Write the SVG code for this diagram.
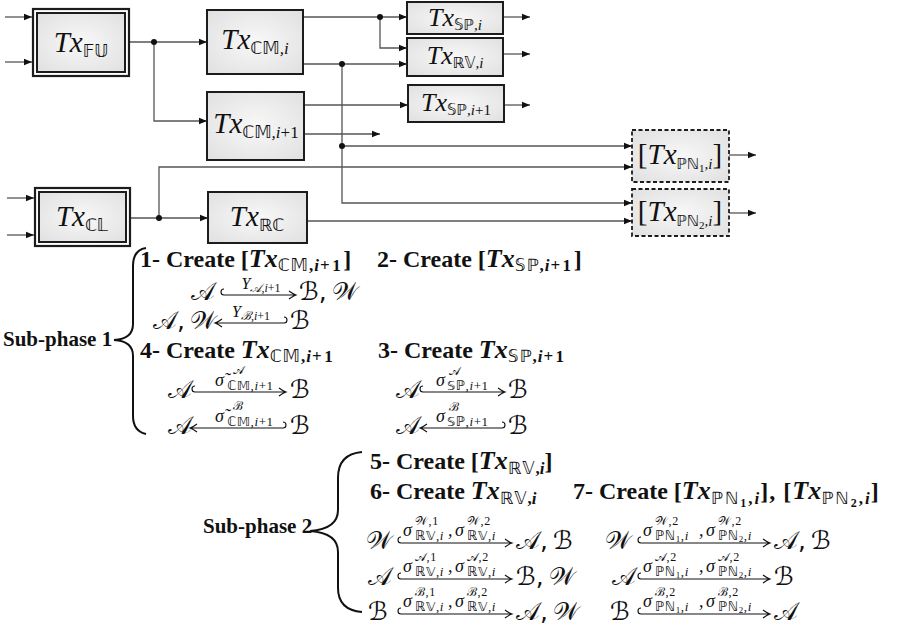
<svg xmlns="http://www.w3.org/2000/svg" width="906" height="630" viewBox="0 0 906 630">
<defs>
<radialGradient id="g" cx="50%" cy="50%" r="70%">
<stop offset="0" stop-color="#f8f8f8"/>
<stop offset="1" stop-color="#e0e0e0"/>
</radialGradient>
<marker id="ah" viewBox="0 0 8 8" refX="8" refY="4" markerWidth="8" markerHeight="8" markerUnits="userSpaceOnUse" orient="auto">
<path d="M0,0.8 L8,4 L0,7.2 Z" fill="#111"/>
</marker>
<style>
.box{fill:url(#g);stroke:#1c1c1c;stroke-width:2}
.ob{fill:#fff;stroke:#1c1c1c;stroke-width:2.2}
.dbox{fill:url(#g);stroke:#1c1c1c;stroke-width:1.8;stroke-dasharray:4 2.5}
.c{fill:none;stroke:#555;stroke-width:1.3}
.dot{fill:#111}
text{fill:#111;font-family:"Liberation Serif","DejaVu Serif",serif}
.bl{font-size:29px;font-style:italic}
.bs{font-size:26px;font-style:italic}
.ds{font-family:"DejaVu Sans","DejaVu Serif",sans-serif;font-style:normal;font-weight:normal}
.up{font-style:normal}
.it{font-style:italic}
.hd{font-size:24px;font-weight:bold}
.sp{font-size:21px;font-weight:bold}
.mt{font-family:"DejaVu Sans","DejaVu Serif","Noto Sans",sans-serif;font-size:25px}
.sg{font-size:18px;font-style:italic}
.sm{font-size:13px;letter-spacing:0.6px}
.su{font-size:12px;letter-spacing:0.6px}
.lb{font-size:16px;font-style:italic}
.arr{fill:none;stroke:#111;stroke-width:1.1}
.br{fill:none;stroke:#111;stroke-width:2}
</style>
</defs>

<g id="connectors">
<path class="c" d="M5,17 H32" marker-end="url(#ah)"/>
<path class="c" d="M5,62 H32" marker-end="url(#ah)"/>
<path class="c" d="M130,42 H207" marker-end="url(#ah)"/>
<path class="c" d="M154,42 V121 H207" marker-end="url(#ah)"/>
<path class="c" d="M303,17 H407" marker-end="url(#ah)"/>
<path class="c" d="M380,17 V48 H407" marker-end="url(#ah)"/>
<path class="c" d="M303,64 H407" marker-end="url(#ah)"/>
<path class="c" d="M342,64 V203 H632" marker-end="url(#ah)"/>
<path class="c" d="M342,146 H632" marker-end="url(#ah)"/>
<path class="c" d="M304,105 H408" marker-end="url(#ah)"/>
<path class="c" d="M304,134 H380" marker-end="url(#ah)"/>
<path class="c" d="M503,17 H530" marker-end="url(#ah)"/>
<path class="c" d="M503,54 H530" marker-end="url(#ah)"/>
<path class="c" d="M504,105 H530" marker-end="url(#ah)"/>
<path class="c" d="M7,198 H34" marker-end="url(#ah)"/>
<path class="c" d="M7,235 H34" marker-end="url(#ah)"/>
<path class="c" d="M131,218 H208" marker-end="url(#ah)"/>
<path class="c" d="M159,218 V167 H632" marker-end="url(#ah)"/>
<path class="c" d="M307,221 H632" marker-end="url(#ah)"/>
<path class="c" d="M729,155 H756" marker-end="url(#ah)"/>
<path class="c" d="M729,213 H756" marker-end="url(#ah)"/>
<circle class="dot" cx="154" cy="42" r="3"/>
<circle class="dot" cx="380" cy="17" r="3"/>
<circle class="dot" cx="342" cy="64" r="3"/>
<circle class="dot" cx="342" cy="146" r="3"/>
<circle class="dot" cx="159" cy="218" r="3"/>
</g>

<g id="txFU">
<rect class="ob" x="33" y="9" width="96" height="67"/>
<rect class="box" x="37" y="13" width="88" height="59" stroke-width="1.5"/>
<text class="bl" x="81" y="52" text-anchor="middle">Tx<tspan class="ds" font-size="17" dy="5">𝔽𝕌</tspan></text>
</g>
<g id="txCMi">
<rect class="box" x="207" y="10" width="96" height="64"/>
<text class="bl" x="255" y="49" text-anchor="middle">Tx<tspan class="ds" font-size="17" dy="5">ℂ𝕄</tspan><tspan font-size="17">,i</tspan></text>
</g>
<g id="txCMi1">
<rect class="box" x="207" y="92" width="97" height="68"/>
<text class="bl" x="256" y="133" text-anchor="middle">Tx<tspan class="ds" font-size="17" dy="5">ℂ𝕄</tspan><tspan font-size="17">,i</tspan><tspan class="up" font-size="17">+1</tspan></text>
</g>
<g id="txSPi">
<rect class="box" x="407" y="2" width="96" height="32"/>
<text class="bs" x="455" y="26" text-anchor="middle">Tx<tspan class="ds" font-size="15" dy="4">𝕊ℙ</tspan><tspan font-size="15">,i</tspan></text>
</g>
<g id="txRVi">
<rect class="box" x="407" y="38" width="96" height="38"/>
<text class="bs" x="455" y="64" text-anchor="middle">Tx<tspan class="ds" font-size="15" dy="4">ℝ𝕍</tspan><tspan font-size="15">,i</tspan></text>
</g>
<g id="txSPi1">
<rect class="box" x="408" y="85" width="96" height="37"/>
<text class="bs" x="456" y="111" text-anchor="middle">Tx<tspan class="ds" font-size="15" dy="4">𝕊ℙ</tspan><tspan font-size="15">,i</tspan><tspan class="up" font-size="15">+1</tspan></text>
</g>
<g id="txCL">
<rect class="ob" x="35" y="188" width="95" height="58"/>
<rect class="box" x="39" y="192" width="87" height="50" stroke-width="1.5"/>
<text class="bl" x="82" y="226" text-anchor="middle">Tx<tspan class="ds" font-size="17" dy="5">ℂ𝕃</tspan></text>
</g>
<g id="txRC">
<rect class="box" x="208" y="192" width="99" height="51"/>
<text class="bl" x="257" y="226" text-anchor="middle">Tx<tspan class="ds" font-size="17" dy="5">ℝℂ</tspan></text>
</g>
<g id="txPN1">
<rect class="dbox" x="632" y="130" width="97" height="52"/>
<text class="bl" x="680" y="164" text-anchor="middle" font-size="27"><tspan class="up">[</tspan>Tx<tspan class="ds" font-size="15" dy="5">ℙℕ</tspan><tspan class="up" font-size="11" dy="3">1</tspan><tspan font-size="15" dy="-3">,i</tspan><tspan class="up" dy="-5">]</tspan></text>
</g>
<g id="txPN2">
<rect class="dbox" x="632" y="189" width="97" height="47"/>
<text class="bl" x="680" y="221" text-anchor="middle" font-size="27"><tspan class="up">[</tspan>Tx<tspan class="ds" font-size="15" dy="5">ℙℕ</tspan><tspan class="up" font-size="11" dy="3">2</tspan><tspan font-size="15" dy="-3">,i</tspan><tspan class="up" dy="-5">]</tspan></text>
</g>

<g id="subphase1">
<text class="sp" x="3" y="346">Sub-phase 1</text>
<path class="br" d="M146,248 Q133,250 133,266 L133,324 Q133,339 114,340 Q133,341 133,356 L133,416 Q133,431 146,434"/>
<text class="hd" x="140" y="267">1- Create [<tspan class="it" font-size="26">Tx</tspan><tspan class="ds" font-size="17" dy="4" letter-spacing="1">ℂ𝕄</tspan><tspan font-size="17" letter-spacing="1">,</tspan><tspan class="it" font-size="17" letter-spacing="1">i</tspan><tspan font-size="17" letter-spacing="2.5">+1</tspan><tspan dy="-4">]</tspan></text>
<text class="hd" x="377" y="267">2- Create [<tspan class="it" font-size="26">Tx</tspan><tspan class="ds" font-size="17" dy="4" letter-spacing="1">𝕊ℙ</tspan><tspan font-size="17" letter-spacing="1">,</tspan><tspan class="it" font-size="17" letter-spacing="1">i</tspan><tspan font-size="17" letter-spacing="2.5">+1</tspan><tspan dy="-4">]</tspan></text>

<text class="mt" x="191" y="300">𝒜</text>
<path class="arr" d="M224,289 A3,3 0 0 0 224,295 H296 M289,291 Q293,294 296,295 Q293,296 289,299"/>
<text class="lb" x="261" y="289" text-anchor="middle">Y<tspan font-size="12" dy="3">𝒜,i</tspan><tspan class="up" font-size="12">+1</tspan></text>
<text class="mt" x="299" y="300">ℬ,&#8201;𝒲</text>

<text class="mt" x="153" y="329">𝒜,&#8201;𝒲</text>
<path class="arr" d="M284,317 A3,3 0 0 1 284,323 H215 M222,319 Q218,322 215,323 Q218,324 222,327"/>
<text class="lb" x="251" y="317" text-anchor="middle">Y<tspan font-size="12" dy="3">ℬ,i</tspan><tspan class="up" font-size="12">+1</tspan></text>
<text class="mt" x="290" y="329">ℬ</text>

<text class="hd" x="140" y="358">4- Create <tspan class="it" font-size="26">Tx</tspan><tspan class="ds" font-size="17" dy="4" letter-spacing="1">ℂ𝕄</tspan><tspan font-size="17" letter-spacing="1">,</tspan><tspan class="it" font-size="17" letter-spacing="1">i</tspan><tspan font-size="17" letter-spacing="2.5">+1</tspan></text>
<text class="hd" x="378" y="358">3- Create <tspan class="it" font-size="26">Tx</tspan><tspan class="ds" font-size="17" dy="4" letter-spacing="1">𝕊ℙ</tspan><tspan font-size="17" letter-spacing="1">,</tspan><tspan class="it" font-size="17" letter-spacing="1">i</tspan><tspan font-size="17" letter-spacing="2.5">+1</tspan></text>

<text class="mt" x="168" y="398">𝒜</text>
<path class="arr" d="M195,386 A3,3 0 0 0 195,392 H286 M279,388 Q283,391 286,392 Q283,393 279,396"/>
<text class="sg" x="215" y="386">σ̃</text>
<text class="su" x="233" y="374">𝒜</text>
<text class="sm" x="227" y="390"><tspan class="ds">ℂ𝕄</tspan>,<tspan class="it">i</tspan>+1</text>
<text class="mt" x="290" y="398">ℬ</text>

<text class="mt" x="168" y="434">𝒜</text>
<path class="arr" d="M283,422 A3,3 0 0 1 283,428 H190 M197,424 Q193,427 190,428 Q193,429 197,432"/>
<text class="sg" x="215" y="422">σ̃</text>
<text class="su" x="233" y="410">ℬ</text>
<text class="sm" x="227" y="426"><tspan class="ds">ℂ𝕄</tspan>,<tspan class="it">i</tspan>+1</text>
<text class="mt" x="290" y="434">ℬ</text>

<text class="mt" x="396" y="398">𝒜</text>
<path class="arr" d="M423,386 A3,3 0 0 0 423,392 H505 M498,388 Q502,391 505,392 Q502,393 498,396"/>
<text class="sg" x="436" y="386">σ</text>
<text class="su" x="449" y="375">𝒜</text>
<text class="sm" x="447" y="390"><tspan class="ds">𝕊ℙ</tspan>,<tspan class="it">i</tspan>+1</text>
<text class="mt" x="508" y="398">ℬ</text>

<text class="mt" x="396" y="434">𝒜</text>
<path class="arr" d="M502,422 A3,3 0 0 1 502,428 H420 M427,424 Q423,427 420,428 Q423,429 427,432"/>
<text class="sg" x="436" y="422">σ</text>
<text class="su" x="449" y="411">ℬ</text>
<text class="sm" x="447" y="426"><tspan class="ds">𝕊ℙ</tspan>,<tspan class="it">i</tspan>+1</text>
<text class="mt" x="508" y="434">ℬ</text>
</g>

<g id="subphase2">
<text class="sp" x="203" y="533">Sub-phase 2</text>
<path class="br" d="M362,452 Q338,454 338,478 L338,510 Q338,529 310,531 Q338,533 338,552 L338,588 Q338,610 362,612"/>
<text class="hd" x="370" y="469">5- Create [<tspan class="it" font-size="26">Tx</tspan><tspan class="ds" font-size="17" dy="5" letter-spacing="1">ℝ𝕍</tspan><tspan font-size="17">,</tspan><tspan class="it" font-size="17">i</tspan><tspan dy="-5">]</tspan></text>
<text class="hd" x="370" y="499">6- Create <tspan class="it" font-size="26">Tx</tspan><tspan class="ds" font-size="17" dy="5" letter-spacing="1">ℝ𝕍</tspan><tspan font-size="17">,</tspan><tspan class="it" font-size="17">i</tspan></text>
<text class="hd" x="573" y="499">7- Create [<tspan class="it" font-size="26">Tx</tspan><tspan class="ds" font-size="17" dy="5" letter-spacing="2">ℙℕ</tspan><tspan font-size="12" dy="3" letter-spacing="2">1</tspan><tspan font-size="17" dy="-3" letter-spacing="2">,</tspan><tspan class="it" font-size="17" letter-spacing="1">i</tspan><tspan dy="-5" letter-spacing="1">], [</tspan><tspan class="it" font-size="26">Tx</tspan><tspan class="ds" font-size="17" dy="5" letter-spacing="2">ℙℕ</tspan><tspan font-size="12" dy="3" letter-spacing="2">2</tspan><tspan font-size="17" dy="-3" letter-spacing="2">,</tspan><tspan class="it" font-size="17" letter-spacing="1">i</tspan><tspan dy="-5">]</tspan></text>

<!-- row a left -->
<text class="mt" x="366" y="549">𝒲</text>
<path class="arr" d="M401,537 A3,3 0 0 0 401,543 H512 M505,539 Q509,542 512,543 Q509,544 505,547"/>
<text class="sg" x="403" y="536">σ</text>
<text class="su" x="415" y="525">𝒲,1</text>
<text class="sm" x="415" y="540"><tspan class="ds">ℝ𝕍</tspan>,<tspan class="it">i</tspan></text>
<text class="sg" x="448" y="536">,</text>
<text class="sg" x="455" y="536">σ</text>
<text class="su" x="467" y="525">𝒲,2</text>
<text class="sm" x="467" y="540"><tspan class="ds">ℝ𝕍</tspan>,<tspan class="it">i</tspan></text>
<text class="mt" x="516" y="549">𝒜,&#8201;ℬ</text>

<!-- row b left -->
<text class="mt" x="368" y="585">𝒜</text>
<path class="arr" d="M401,573 A3,3 0 0 0 401,579 H512 M505,575 Q509,578 512,579 Q509,580 505,583"/>
<text class="sg" x="403" y="572">σ</text>
<text class="su" x="415" y="561">𝒜,1</text>
<text class="sm" x="415" y="576"><tspan class="ds">ℝ𝕍</tspan>,<tspan class="it">i</tspan></text>
<text class="sg" x="448" y="572">,</text>
<text class="sg" x="455" y="572">σ</text>
<text class="su" x="467" y="561">𝒜,2</text>
<text class="sm" x="467" y="576"><tspan class="ds">ℝ𝕍</tspan>,<tspan class="it">i</tspan></text>
<text class="mt" x="516" y="585">ℬ,&#8201;𝒲</text>

<!-- row c left -->
<text class="mt" x="368" y="620">ℬ</text>
<path class="arr" d="M401,608 A3,3 0 0 0 401,614 H512 M505,610 Q509,613 512,614 Q509,615 505,618"/>
<text class="sg" x="403" y="607">σ</text>
<text class="su" x="415" y="596">ℬ,1</text>
<text class="sm" x="415" y="611"><tspan class="ds">ℝ𝕍</tspan>,<tspan class="it">i</tspan></text>
<text class="sg" x="448" y="607">,</text>
<text class="sg" x="455" y="607">σ</text>
<text class="su" x="467" y="596">ℬ,2</text>
<text class="sm" x="467" y="611"><tspan class="ds">ℝ𝕍</tspan>,<tspan class="it">i</tspan></text>
<text class="mt" x="516" y="620">𝒜,&#8201;𝒲</text>

<!-- row a right -->
<text class="mt" x="605" y="549">𝒲</text>
<path class="arr" d="M641,537 A3,3 0 0 0 641,543 H770 M763,539 Q767,542 770,543 Q767,544 763,547"/>
<text class="sg" x="643" y="536">σ</text>
<text class="su" x="655" y="525">𝒲,2</text>
<text class="sm" x="655" y="540"><tspan class="ds">ℙℕ</tspan><tspan font-size="9" dy="2">1</tspan><tspan dy="-2">,</tspan><tspan class="it">i</tspan></text>
<text class="sg" x="699" y="536">,</text>
<text class="sg" x="706" y="536">σ</text>
<text class="su" x="718" y="525">𝒲,2</text>
<text class="sm" x="718" y="540"><tspan class="ds">ℙℕ</tspan><tspan font-size="9" dy="2">2</tspan><tspan dy="-2">,</tspan><tspan class="it">i</tspan></text>
<text class="mt" x="774" y="549">𝒜,&#8201;ℬ</text>

<!-- row b right -->
<text class="mt" x="612" y="585">𝒜</text>
<path class="arr" d="M641,573 A3,3 0 0 0 641,579 H770 M763,575 Q767,578 770,579 Q767,580 763,583"/>
<text class="sg" x="643" y="572">σ</text>
<text class="su" x="655" y="561">𝒜,2</text>
<text class="sm" x="655" y="576"><tspan class="ds">ℙℕ</tspan><tspan font-size="9" dy="2">1</tspan><tspan dy="-2">,</tspan><tspan class="it">i</tspan></text>
<text class="sg" x="699" y="572">,</text>
<text class="sg" x="706" y="572">σ</text>
<text class="su" x="718" y="561">𝒜,2</text>
<text class="sm" x="718" y="576"><tspan class="ds">ℙℕ</tspan><tspan font-size="9" dy="2">2</tspan><tspan dy="-2">,</tspan><tspan class="it">i</tspan></text>
<text class="mt" x="774" y="585">ℬ</text>

<!-- row c right -->
<text class="mt" x="610" y="620">ℬ</text>
<path class="arr" d="M641,608 A3,3 0 0 0 641,614 H770 M763,610 Q767,613 770,614 Q767,615 763,618"/>
<text class="sg" x="643" y="607">σ</text>
<text class="su" x="655" y="596">ℬ,2</text>
<text class="sm" x="655" y="611"><tspan class="ds">ℙℕ</tspan><tspan font-size="9" dy="2">1</tspan><tspan dy="-2">,</tspan><tspan class="it">i</tspan></text>
<text class="sg" x="699" y="607">,</text>
<text class="sg" x="706" y="607">σ</text>
<text class="su" x="718" y="596">ℬ,2</text>
<text class="sm" x="718" y="611"><tspan class="ds">ℙℕ</tspan><tspan font-size="9" dy="2">2</tspan><tspan dy="-2">,</tspan><tspan class="it">i</tspan></text>
<text class="mt" x="774" y="620">𝒜</text>
</g>
</svg>
